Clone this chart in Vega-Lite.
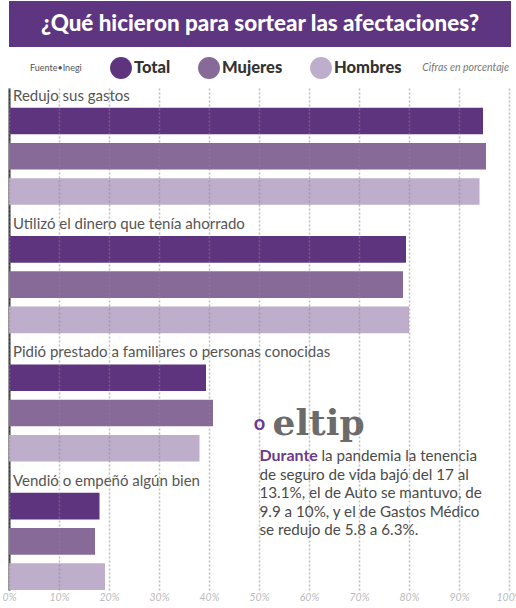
{
  "$schema": "https://vega.github.io/schema/vega-lite/v6.json",
  "padding": {"left": 2, "top": 1, "right": 0, "bottom": 0},
  "bounds": "flush",
  "spacing": 41,
  "background": "white",
  "config": {"view": {"stroke": null}, "font": "Lato"},
  "vconcat": [
    {
      "width": 502,
      "height": 46,
      "view": {"fill": "#5e3580", "stroke": null},
      "data": {"values": [{"titulo": "¿Qué hicieron para sortear las afectaciones?"}]},
      "mark": {"type": "text", "font": "Lato", "fontSize": 22.4, "fontWeight": 900, "color": "#ffffff", "align": "center", "baseline": "middle"},
      "encoding": {"text": {"field": "titulo"}}
    },
    {
      "width": 500,
      "height": 502,
      "title": {"text": "Cifras en porcentaje", "anchor": "end", "frame": "group", "fontSize": 10.5, "fontStyle": "italic", "fontWeight": "normal", "font": "Lato", "color": "#777777", "offset": 15},
      "layer": [
        {
          "data": {"values": [
            {"accion": "Redujo sus gastos", "grupo": "Total", "valor": 94.8},
            {"accion": "Redujo sus gastos", "grupo": "Mujeres", "valor": 95.4},
            {"accion": "Redujo sus gastos", "grupo": "Hombres", "valor": 94.1},
            {"accion": "Utilizó el dinero que tenía ahorrado", "grupo": "Total", "valor": 79.4},
            {"accion": "Utilizó el dinero que tenía ahorrado", "grupo": "Mujeres", "valor": 78.8},
            {"accion": "Utilizó el dinero que tenía ahorrado", "grupo": "Hombres", "valor": 80.0},
            {"accion": "Pidió prestado a familiares o personas conocidas", "grupo": "Total", "valor": 39.4},
            {"accion": "Pidió prestado a familiares o personas conocidas", "grupo": "Mujeres", "valor": 40.8},
            {"accion": "Pidió prestado a familiares o personas conocidas", "grupo": "Hombres", "valor": 38.1},
            {"accion": "Vendió o empeñó algún bien", "grupo": "Total", "valor": 18.1},
            {"accion": "Vendió o empeñó algún bien", "grupo": "Mujeres", "valor": 17.2},
            {"accion": "Vendió o empeñó algún bien", "grupo": "Hombres", "valor": 19.2}
          ]},
          "mark": {"type": "bar"},
          "encoding": {
            "x": {"field": "valor", "type": "quantitative",
                  "scale": {"domain": [0, 100], "nice": false},
                  "axis": {"title": null, "values": [0, 10, 20, 30, 40, 50, 60, 70, 80, 90, 100],
                           "labelExpr": "datum.value + '%'", "labelFont": "Lato", "labelFontStyle": "italic",
                           "labelFontSize": 10.5, "labelColor": "#bbbbbb", "labelPadding": 2, "labelFlush": false,
                           "ticks": false, "domain": false, "grid": true, "gridDash": [2, 2],
                           "gridColor": "#888888", "gridOpacity": 0.55, "gridWidth": 1.5, "zindex": 1}},
            "y": {"field": "accion", "type": "nominal",
                  "sort": ["Redujo sus gastos", "Utilizó el dinero que tenía ahorrado", "Pidió prestado a familiares o personas conocidas", "Vendió o empeñó algún bien"],
                  "scale": {"domain": ["Redujo sus gastos", "Utilizó el dinero que tenía ahorrado", "Pidió prestado a familiares o personas conocidas", "Vendió o empeñó algún bien"],
                            "paddingInner": 0.243, "paddingOuter": 0.0765, "align": 1},
                  "axis": {"title": null, "labels": false, "ticks": false, "domain": true, "domainColor": "#333333", "domainWidth": 2, "grid": false}},
            "yOffset": {"field": "grupo", "type": "nominal", "sort": ["Total", "Mujeres", "Hombres"],
                        "scale": {"paddingInner": 0.243, "paddingOuter": 0}},
            "color": {"field": "grupo", "type": "nominal",
                      "scale": {"domain": ["Total", "Mujeres", "Hombres"], "range": ["#5e347e", "#886a99", "#beaecc"]},
                      "legend": {"orient": "none", "legendX": 21, "legendY": 56, "direction": "horizontal",
                                 "title": "Fuente•Inegi", "titleOrient": "left", "titleFontSize": 9, "titleFont": "Lato",
                                 "titleFontWeight": "normal", "titleColor": "#555555", "titlePadding": 28, "titleBaseline": "middle",
                                 "symbolType": "circle", "symbolSize": 480, "symbolStrokeWidth": 0, "symbolOpacity": 1,
                                 "labelFontSize": 16.5, "labelFont": "Lato", "labelFontWeight": 900, "labelColor": "#333333",
                                 "labelOffset": 2, "columnPadding": 27}}
          }
        },
        {
          "data": {"values": [
            {"accion": "Redujo sus gastos"},
            {"accion": "Utilizó el dinero que tenía ahorrado"},
            {"accion": "Pidió prestado a familiares o personas conocidas"},
            {"accion": "Vendió o empeñó algún bien"}
          ]},
          "mark": {"type": "text", "align": "left", "baseline": "alphabetic", "dx": 4, "dy": -7, "fontSize": 15, "font": "Lato", "color": "#555555"},
          "encoding": {
            "x": {"datum": 0, "type": "quantitative"},
            "y": {"field": "accion", "type": "nominal", "bandPosition": 0,
                  "sort": ["Redujo sus gastos", "Utilizó el dinero que tenía ahorrado", "Pidió prestado a familiares o personas conocidas", "Vendió o empeñó algún bien"]},
            "text": {"field": "accion"}
          }
        },
        {
          "data": {"values": [{}]},
          "mark": {"type": "text", "align": "center", "baseline": "middle", "dy": -69, "fontSize": 20, "font": "Lato", "fontWeight": "bold", "color": "#6a3a8c"},
          "encoding": {
            "x": {"datum": 50.1, "type": "quantitative"},
            "y": {"datum": "Vendió o empeñó algún bien", "type": "nominal", "bandPosition": 0},
            "text": {"value": "o"}
          }
        },
        {
          "data": {"values": [{}]},
          "mark": {"type": "text", "align": "left", "baseline": "alphabetic", "dy": -57.7, "fontSize": 36, "font": "DejaVu Serif", "fontWeight": "bold", "color": "#6b6b6b"},
          "encoding": {
            "x": {"datum": 52.7, "type": "quantitative"},
            "y": {"datum": "Vendió o empeñó algún bien", "type": "nominal", "bandPosition": 0},
            "text": {"value": "eltip"}
          }
        },
        {
          "data": {"values": [{}]},
          "mark": {"type": "text", "align": "left", "baseline": "alphabetic", "dy": -31.7, "fontSize": 16, "font": "Lato", "fontWeight": "bold", "color": "#6a3a8c"},
          "encoding": {
            "x": {"datum": 50.1, "type": "quantitative"},
            "y": {"datum": "Vendió o empeñó algún bien", "type": "nominal", "bandPosition": 0},
            "text": {"value": "Durante"}
          }
        },
        {
          "data": {"values": [{}]},
          "mark": {"type": "text", "align": "left", "baseline": "alphabetic", "dy": -31.7, "fontSize": 15.2, "font": "Lato", "color": "#4a4a4a"},
          "encoding": {
            "x": {"datum": 62.5, "type": "quantitative"},
            "y": {"datum": "Vendió o empeñó algún bien", "type": "nominal", "bandPosition": 0},
            "text": {"value": "la pandemia la tenencia"}
          }
        },
        {
          "data": {"values": [{}]},
          "mark": {"type": "text", "align": "left", "baseline": "alphabetic", "dy": -13.2, "lineHeight": 18.5, "fontSize": 15.2, "font": "Lato", "color": "#4a4a4a"},
          "encoding": {
            "x": {"datum": 50.1, "type": "quantitative"},
            "y": {"datum": "Vendió o empeñó algún bien", "type": "nominal", "bandPosition": 0},
            "text": {"value": ["de seguro de vida bajó del 17 al", "13.1%, el de Auto se mantuvo, de", "9.9 a 10%, y el de Gastos Médico", "se redujo de 5.8 a 6.3%."]}
          }
        }
      ]
    }
  ]
}
